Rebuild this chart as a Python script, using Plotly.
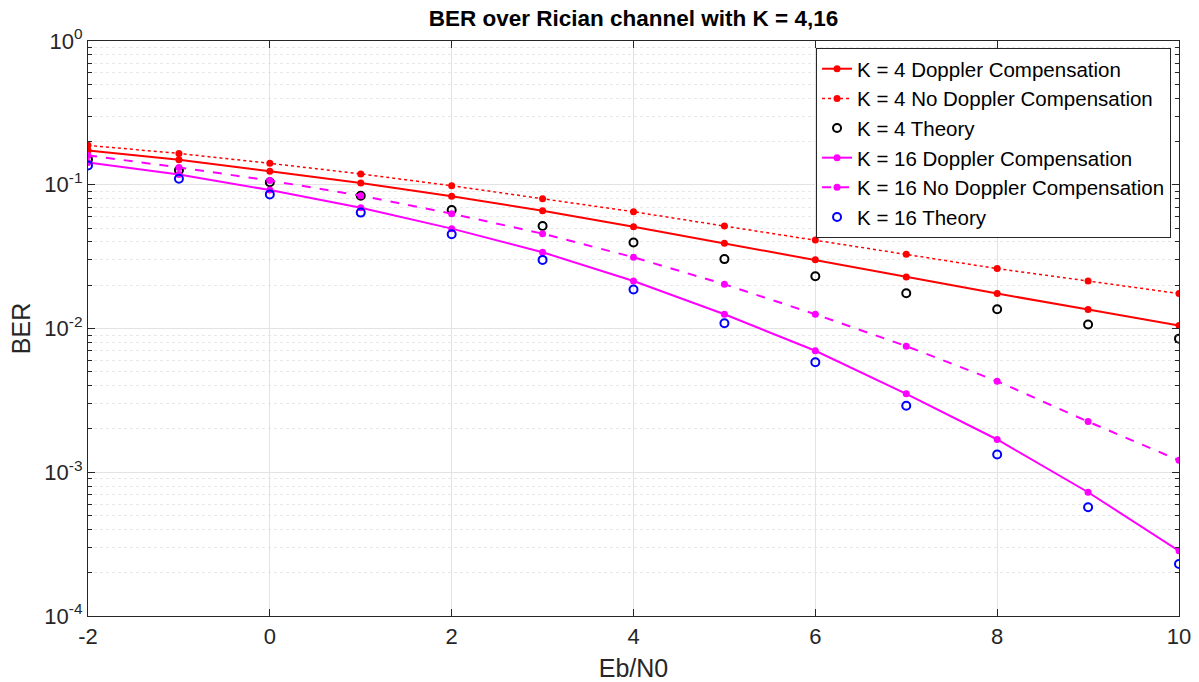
import plotly.graph_objects as go

ebn0 = [-2, -1, 0, 1, 2, 3, 4, 5, 6, 7, 8, 9, 10]

k4_comp = [0.173, 0.149, 0.124, 0.103, 0.0833, 0.0660, 0.0511, 0.0391, 0.0301, 0.0228, 0.0175, 0.01355, 0.0105]
k4_nocomp = [0.188, 0.165, 0.141, 0.119, 0.0984, 0.080, 0.0649, 0.0516, 0.0412, 0.0328, 0.0261, 0.0214, 0.0175]
k4_theory = [0.150, 0.126, 0.104, 0.0839, 0.0667, 0.0516, 0.0397, 0.0304, 0.0231, 0.0176, 0.0136, 0.01067, 0.0085]
k16_comp = [0.143, 0.118, 0.0918, 0.0692, 0.0495, 0.0339, 0.0214, 0.01256, 0.0070, 0.00351, 0.00169, 0.000726, 0.000284]
k16_nocomp = [0.160, 0.132, 0.107, 0.084, 0.0629, 0.0457, 0.0313, 0.0203, 0.01256, 0.00754, 0.0043, 0.00225, 0.00121]
k16_theory = [0.136, 0.110, 0.0857, 0.064, 0.0452, 0.030, 0.0187, 0.01088, 0.00583, 0.0029, 0.00133, 0.000571, 0.00023]

x_ticks = [-2, 0, 2, 4, 6, 8, 10]
x_ticktext = ["-2", "0", "2", "4", "6", "8", "10"]
y_tickvals = [1e-4, 1e-3, 1e-2, 1e-1, 1e0]
y_ticktext = ["10<sup>-4</sup>", "10<sup>-3</sup>", "10<sup>-2</sup>", "10<sup>-1</sup>", "10<sup>0</sup>"]

names = ["K = 4 Doppler Compensation", "K = 4 No Doppler Compensation", "K = 4 Theory",
         "K = 16 Doppler Compensation", "K = 16 No Doppler Compensation", "K = 16 Theory"]

RED = "#ff0000"
MAG = "#ff00ff"
FONT = "Liberation Sans, Arial, sans-serif"

fig = go.Figure()
fig.add_trace(go.Scatter(x=ebn0, y=k4_comp, name=names[0], mode="lines+markers",
                         line=dict(color=RED, width=2), marker=dict(color=RED, size=7)))
fig.add_trace(go.Scatter(x=ebn0, y=k4_nocomp, name=names[1], mode="lines+markers",
                         line=dict(color=RED, width=1.5, dash="dot"), marker=dict(color=RED, size=7)))
fig.add_trace(go.Scatter(x=ebn0, y=k4_theory, name=names[2], mode="markers",
                         marker=dict(symbol="circle-open", color="black", size=8, line=dict(width=2, color="black"))))
fig.add_trace(go.Scatter(x=ebn0, y=k16_comp, name=names[3], mode="lines+markers",
                         line=dict(color=MAG, width=2), marker=dict(color=MAG, size=7)))
fig.add_trace(go.Scatter(x=ebn0, y=k16_nocomp, name=names[4], mode="lines+markers",
                         line=dict(color=MAG, width=2, dash="dash"), marker=dict(color=MAG, size=7)))
fig.add_trace(go.Scatter(x=ebn0, y=k16_theory, name=names[5], mode="markers",
                         marker=dict(symbol="circle-open", color="#0000ff", size=8, line=dict(width=2, color="#0000ff"))))

axis_common = dict(
    showline=True, linecolor="#262626", linewidth=1.2, mirror="ticks",
    ticks="inside", ticklen=7, tickcolor="#262626",
    tickfont=dict(family=FONT, size=22, color="#262626"),
    showgrid=True, gridcolor="#e3e3e3", gridwidth=1, zeroline=False,
    automargin=False,
)

fig.update_xaxes(range=[-2, 10], tickvals=x_ticks, ticktext=x_ticktext, **axis_common,
                 title=dict(text="Eb/N0", font=dict(family=FONT, size=25, color="#262626"), standoff=23))
fig.update_yaxes(type="log", range=[-4, 0], tickvals=y_tickvals, ticktext=y_ticktext, **axis_common,
                 minor=dict(ticks="inside", ticklen=4, tickcolor="#262626", showgrid=True,
                            gridcolor="#e8e8e8", griddash="dot", dtick="D1"),
                 title=dict(text="BER", font=dict(family=FONT, size=25, color="#262626"), standoff=6))

fig.update_layout(
    width=1199, height=682,
    margin=dict(l=88, r=20, t=41, b=66),
    paper_bgcolor="white", plot_bgcolor="white",
    title=dict(text="<b>BER over Rician channel with K = 4,16</b>", x=0.5, xanchor="center",
               xref="paper",
               y=0.974, yanchor="middle", font=dict(family=FONT, size=22.5, color="black")),
    legend=dict(x=0.9927, y=0.988, xanchor="right", yanchor="top", bgcolor="white",
                bordercolor="#262626", borderwidth=1, tracegroupgap=0,
                font=dict(family=FONT, size=20.5, color="black"), itemwidth=30),
    showlegend=True,
)

fig.write_html("out.html", config={"displayModeBar": False},
               post_script="document.body.style.margin='0';document.body.style.overflow='hidden';")
